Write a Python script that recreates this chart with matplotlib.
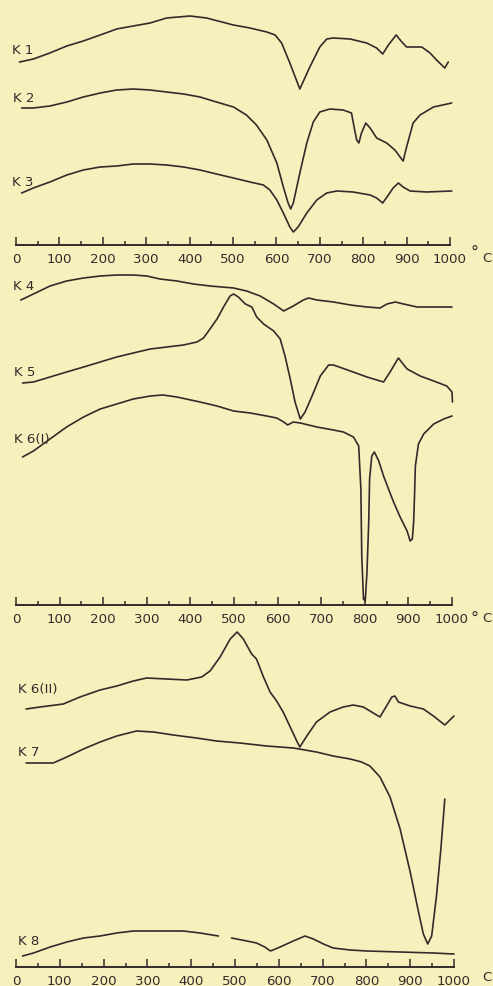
import matplotlib
matplotlib.use("Agg")
import matplotlib.pyplot as plt
from matplotlib.ticker import MultipleLocator

# ---------------- data (temperature in °C, deflection in arbitrary units) ----------------
k1_t = [8, 40, 78, 117, 155, 194, 232, 270, 309, 347, 401, 439, 501, 539, 578, 597, 612, 631, 654, 677,
        700, 716, 731, 770, 808, 831, 845, 858, 876, 889, 900, 935, 954, 969, 988, 996]
k1_v = [183, 186, 192, 199, 204, 210, 216, 219, 222, 227, 229, 227, 220, 217, 213, 210, 202, 182, 156, 178,
        198, 206, 207, 206, 202, 197, 191, 200, 210, 203, 198, 198, 192, 185, 177, 183]

k2_t = [13, 40, 78, 117, 155, 194, 232, 270, 309, 347, 386, 424, 462, 501, 531, 554, 578, 601, 616, 627,
        633, 639, 654, 670, 685, 700, 723, 754, 773, 779, 785, 790, 796, 806, 816, 831, 854, 873, 885, 892,
        900, 915, 931, 962, 1004]
k2_v = [137, 137, 139, 143, 148, 152, 155, 156, 155, 153, 151, 148, 143, 138, 130, 120, 105, 82, 58, 42,
        36, 42, 72, 102, 123, 133, 136, 135, 132, 118, 105, 102, 112, 122, 117, 107, 102, 95, 88, 84,
        98, 122, 130, 138, 142]

k3_t = [13, 40, 78, 117, 155, 194, 232, 270, 309, 347, 386, 424, 462, 501, 539, 570, 585, 601, 616, 631,
        639, 650, 670, 693, 716, 739, 777, 816, 831, 845, 858, 869, 881, 892, 908, 946, 1004]
k3_v = [52, 57, 63, 70, 75, 78, 79, 81, 81, 80, 78, 75, 71, 67, 63, 60, 55, 45, 32, 18,
        13, 18, 32, 45, 52, 54, 53, 50, 47, 42, 50, 57, 62, 58, 54, 53, 54]

k4_t = [11, 40, 78, 116, 155, 193, 231, 269, 300, 330, 369, 407, 445, 499, 529, 560, 591, 614, 636, 659,
        671, 690, 728, 767, 805, 835, 851, 870, 889, 920, 958, 1000]
k4_v = [305, 311, 319, 324, 327, 329, 330, 330, 329, 326, 324, 321, 319, 317, 314, 309, 301, 294, 299, 305,
        307, 305, 303, 300, 298, 297, 301, 303, 301, 298, 298, 298]

k5_t = [15, 40, 78, 116, 155, 193, 231, 269, 308, 346, 384, 415, 430, 445, 461, 476, 491, 499, 510, 526,
        541, 552, 568, 591, 606, 617, 629, 640, 652, 663, 679, 698, 717, 728, 767, 805, 843, 858, 877, 897,
        927, 958, 988, 1000, 1001]
k5_v = [222, 223, 228, 233, 238, 243, 248, 252, 256, 258, 260, 263, 267, 276, 286, 298, 309, 311, 308, 301,
        298, 288, 281, 274, 266, 249, 226, 203, 186, 193, 209, 229, 240, 240, 234, 228, 223, 233, 247, 236,
        229, 224, 219, 213, 203]

k6i_t = [15, 40, 78, 116, 155, 193, 231, 269, 308, 337, 369, 422, 461, 499, 537, 575, 598, 614, 623, 636,
         652, 690, 728, 751, 774, 786, 789, 791, 793, 797, 801, 805, 809, 811, 816, 822, 832, 843, 857, 866,
         881, 897, 904, 909, 912, 914, 916, 923, 935, 958, 981, 1000]
k6i_v = [148, 154, 166, 178, 188, 196, 201, 206, 209, 210, 208, 203, 199, 194, 192, 189, 187, 183, 180, 183,
         182, 178, 175, 173, 168, 159, 133, 116, 49, 6, 4, 33, 83, 126, 149, 153, 144, 129, 113, 103,
         88, 74, 64, 66, 83, 109, 139, 161, 171, 181, 186, 189]

k6ii_t = [23, 55, 108, 146, 192, 230, 268, 298, 344, 390, 424, 443, 466, 489, 505, 519, 538, 549, 565, 580,
          595, 610, 626, 641, 648, 664, 686, 717, 747, 770, 793, 831, 846, 858, 865, 873, 900, 930, 953, 979,
          1000]
k6ii_v = [258, 260, 263, 270, 277, 281, 286, 289, 288, 287, 290, 296, 310, 328, 335, 328, 313, 308, 290, 275,
          266, 255, 240, 226, 220, 231, 245, 255, 260, 262, 260, 250, 261, 270, 271, 265, 261, 258, 251, 242,
          251]

k7_t = [23, 85, 116, 154, 192, 230, 275, 314, 359, 412, 458, 511, 572, 633, 686, 724, 763, 789, 808, 831,
        854, 877, 900, 919, 930, 940, 949, 960, 970, 979]
k7_v = [204, 204, 210, 218, 225, 231, 236, 235, 232, 229, 226, 224, 221, 219, 215, 211, 208, 205, 201, 190,
        170, 138, 95, 55, 33, 23, 31, 71, 118, 168]

k8a_t = [15, 40, 78, 116, 154, 192, 230, 268, 306, 344, 382, 420, 462]
k8a_v = [11, 14, 20, 25, 29, 31, 34, 36, 36, 36, 36, 34, 31]
k8b_t = [492, 527, 549, 568, 581, 603, 633, 660, 679, 702, 724, 763, 801, 877, 953, 1000]
k8b_v = [29, 26, 24, 20, 16, 20, 26, 31, 28, 23, 19, 17, 16, 15, 14, 13]

tick_values = [0, 100, 200, 300, 400, 500, 600, 700, 800, 900, 1000]
tick_labels = ["0", "100", "200", "300", "400", "500", "600", "700", "800", "900", "1000"]

# ---------------- style ----------------
W, H = 493, 987
BG = "#f8f0bc"
INK = "#332b2b"
FS = 9.6

fig = plt.figure(figsize=(W / 100, H / 100), dpi=100, facecolor=BG)


def make_axes(x0, x1, ytop, yaxis, unit_label):
    ax = fig.add_axes([x0 / W, 1 - yaxis / H, (x1 - x0) / W, (yaxis - ytop) / H])
    ax.set_facecolor("none")
    ax.set_xlim(0, 1000)
    ax.set_ylim(0, yaxis - ytop)
    for s in ("top", "left", "right"):
        ax.spines[s].set_visible(False)
    ax.spines["bottom"].set_color(INK)
    ax.spines["bottom"].set_linewidth(1.4)
    ax.yaxis.set_visible(False)
    ax.set_xticks(tick_values)
    ax.set_xticklabels(tick_labels)
    ax.xaxis.set_minor_locator(MultipleLocator(50))
    ax.tick_params(axis="x", which="major", direction="in", length=6, width=1.1,
                   color=INK, labelcolor=INK, labelsize=FS, pad=5)
    ax.tick_params(axis="x", which="minor", direction="in", length=3, width=1.1, color=INK)
    ax.text(1.0, 0, unit_label, transform=ax.transAxes, ha="left", va="top",
            fontsize=FS, color=INK)
    return ax


ax1 = make_axes(16, 450, 0, 246, "")
ax2 = make_axes(16, 452, 262, 606, "")
ax3 = make_axes(16, 454, 622, 968, "")

# unit labels
fig.text(471 / W, 1 - 252 / H, "°", fontsize=FS + 2, color=INK, ha="left", va="center")
fig.text(482 / W, 1 - 258 / H, "C", fontsize=FS, color=INK, ha="left", va="center")
fig.text(471 / W, 1 - 618 / H, "°", fontsize=FS + 2, color=INK, ha="left", va="center")
fig.text(482 / W, 1 - 618 / H, "C", fontsize=FS, color=INK, ha="left", va="center")
fig.text(482 / W, 1 - 978 / H, "C", fontsize=FS, color=INK, ha="left", va="center")

lw = 1.2
kw = dict(color=INK, lw=lw, clip_on=False, solid_joinstyle="round", solid_capstyle="round")

ax1.plot(k1_t, k1_v, **kw)
ax1.plot(k2_t, k2_v, **kw)
ax1.plot(k3_t, k3_v, **kw)

ax2.plot(k4_t, k4_v, **kw)
ax2.plot(k5_t, k5_v, **kw)
ax2.plot(k6i_t, k6i_v, **kw)

ax3.plot(k6ii_t, k6ii_v, **kw)
ax3.plot(k7_t, k7_v, **kw)
ax3.plot(k8a_t, k8a_v, **kw)
ax3.plot(k8b_t, k8b_v, **kw)

lab = dict(fontsize=FS, color=INK, ha="left", va="center")
ax1.text(-9, 196, "K 1", **lab)
ax1.text(-7, 147, "K 2", **lab)
ax1.text(-9, 64, "K 3", **lab)
ax2.text(-7, 319, "K 4", **lab)
ax2.text(-5, 233, "K 5", **lab)
ax2.text(-5, 166, "K 6(I)", **lab)
ax3.text(5, 278, "K 6(II)", **lab)
ax3.text(5, 215, "K 7", **lab)
ax3.text(5, 26, "K 8", **lab)

fig.savefig("out.png", dpi=100, facecolor=BG)
